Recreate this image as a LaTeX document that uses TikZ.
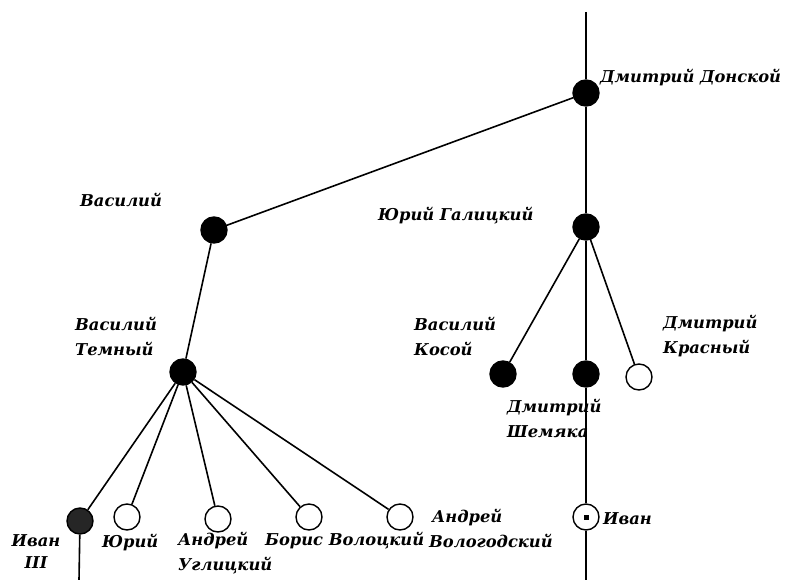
\documentclass[tikz,border=0pt]{standalone}
\usepackage{fontspec}
\setmainfont{DejaVu Serif}
\begin{document}
\begin{tikzpicture}[x=1pt,y=-1pt,
  person/.style={circle,draw=black,line width=1.4pt,minimum size=26pt,inner sep=0pt},
  dead/.style={person,fill=black},
  grey/.style={person,fill=black!85},
  alive/.style={person,fill=white},
  lbl/.style={font=\fontsize{16.3}{25}\selectfont\bfseries\itshape,inner sep=0pt,align=left},
  link/.style={line width=1.6pt}]
\useasboundingbox (0,0) rectangle (789,580);
% nodes
\node[dead] (dd) at (586,93) {};
\node[dead] (vas) at (214,230) {};
\node[dead] (yg) at (586,227) {};
\node[dead] (vt) at (183,372) {};
\node[dead] (vk) at (503,374) {};
\node[dead] (ds) at (586,374) {};
\node[alive] (dk) at (639,377) {};
\node[grey] (i3) at (80,521) {};
\node[alive] (yu) at (127,517) {};
\node[alive] (au) at (218,519) {};
\node[alive] (bv) at (309,517) {};
\node[alive] (av) at (400,517) {};
\node[alive] (iv) at (586,517) {};
\node[fill=black,minimum size=5pt,inner sep=0pt] (ivc) at (iv.center) {};
\coordinate (top) at (586,12);
\coordinate (bot) at (586,580);
\coordinate (i3bot) at (79,580);
% connectors
\draw[link] (top) -- (dd);
\draw[link] (dd) -- (yg);
\draw[link] (yg) -- (ds);
\draw[link] (ds) -- (iv);
\draw[link] (iv) -- (bot);
\draw[link] (dd) -- (vas);
\draw[link] (vas) -- (vt);
\draw[link] (yg) -- (vk);
\draw[link] (yg) -- (dk);
\draw[link] (vt) -- (i3);
\draw[link] (vt) -- (yu);
\draw[link] (vt) -- (au);
\draw[link] (vt) -- (bv);
\draw[link] (vt) -- (av);
\draw[link] (i3) -- (i3bot);
% labels
\node[lbl,anchor=west] (tdd) at (600,78) {Дмитрий Донской};
\node[lbl,anchor=west] (tvas) at (80,200) {Василий};
\node[lbl,anchor=west] (tyg) at (378,216) {Юрий Галицкий};
\node[lbl,anchor=west] (tvt) at (75,336) {Василий\\Темный};
\node[lbl,anchor=west] (tvk) at (414,336) {Василий\\Косой};
\node[lbl,anchor=west] (tdk) at (663,336) {Дмитрий\\Красный};
\node[lbl,anchor=west] (tds) at (507,418) {Дмитрий\\Шемяка};
\node[lbl,align=center,font=\fontsize{16.3}{22}\selectfont\bfseries\itshape] (ti3) at (36,552) {Иван\\III};
\node[lbl,anchor=west] (tyu) at (102,543) {Юрий};
\node[lbl,anchor=west] (tau) at (178,553) {Андрей\\Углицкий};
\node[lbl,anchor=west] (tbv) at (265,541) {Борис Волоцкий};
\node[lbl,anchor=west] (tav) at (429,528) {\hspace*{3pt}Андрей\\Вологодский};
\node[lbl,anchor=west] (tiv) at (603,519) {Иван};
\end{tikzpicture}
\end{document}
